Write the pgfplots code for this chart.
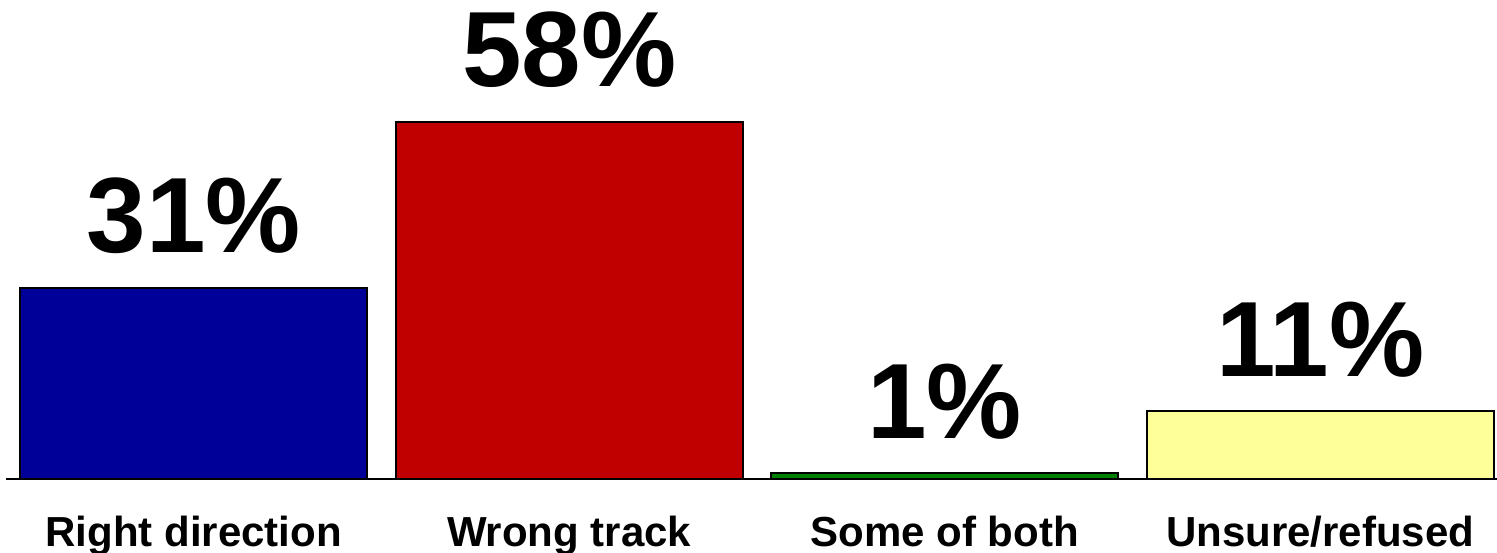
\documentclass[border=0pt]{standalone}
\usepackage{fontspec}
\setmainfont{Liberation Sans}
\usepackage{pgfplots}
\pgfplotsset{compat=1.18}
\definecolor{barblue}{HTML}{000099}
\definecolor{barred}{HTML}{C00000}
\definecolor{bargreen}{HTML}{008000}
\definecolor{baryellow}{HTML}{FFFF99}
\begin{document}
\begin{tikzpicture}
\useasboundingbox (0,0) rectangle (748.5pt,276pt);
\begin{axis}[
  at={(3pt,36.5pt)}, anchor=south west,
  scale only axis,
  width=745.5pt, height=239.5pt,
  xmin=-0.5, xmax=3.471,
  ymin=0, ymax=77.8,
  axis x line*=bottom,
  axis y line=none,
  x axis line style={line width=0.7pt, black},
  xtick={0,1,2,3},
  xticklabels={Right direction, Wrong track, Some of both, Unsure/refused},
  xtick style={draw=none},
  xticklabel style={anchor=base, yshift=-29.5pt, inner sep=0pt, font=\fontsize{21}{25}\selectfont\bfseries},
  ytick=\empty,
  /pgf/number format/assume math mode=true,
  ybar, bar shift=0pt, bar width=0.924,
  clip=false,
  nodes near coords={\pgfmathprintnumber{\pgfplotspointmeta}\%},
  every node near coord/.append style={anchor=south, inner sep=0pt, yshift=16.5pt, font=\fontsize{53.5}{60}\selectfont\bfseries, text=black},
]
\addplot[draw=black, line width=1pt, fill=barblue] coordinates {(0,31)};
\addplot[draw=black, line width=1pt, fill=barred] coordinates {(1,58)};
\addplot[draw=black, line width=1pt, fill=bargreen] coordinates {(2,1)};
\addplot[draw=black, line width=1pt, fill=baryellow] coordinates {(3,11)};
\end{axis}
\end{tikzpicture}
\end{document}
